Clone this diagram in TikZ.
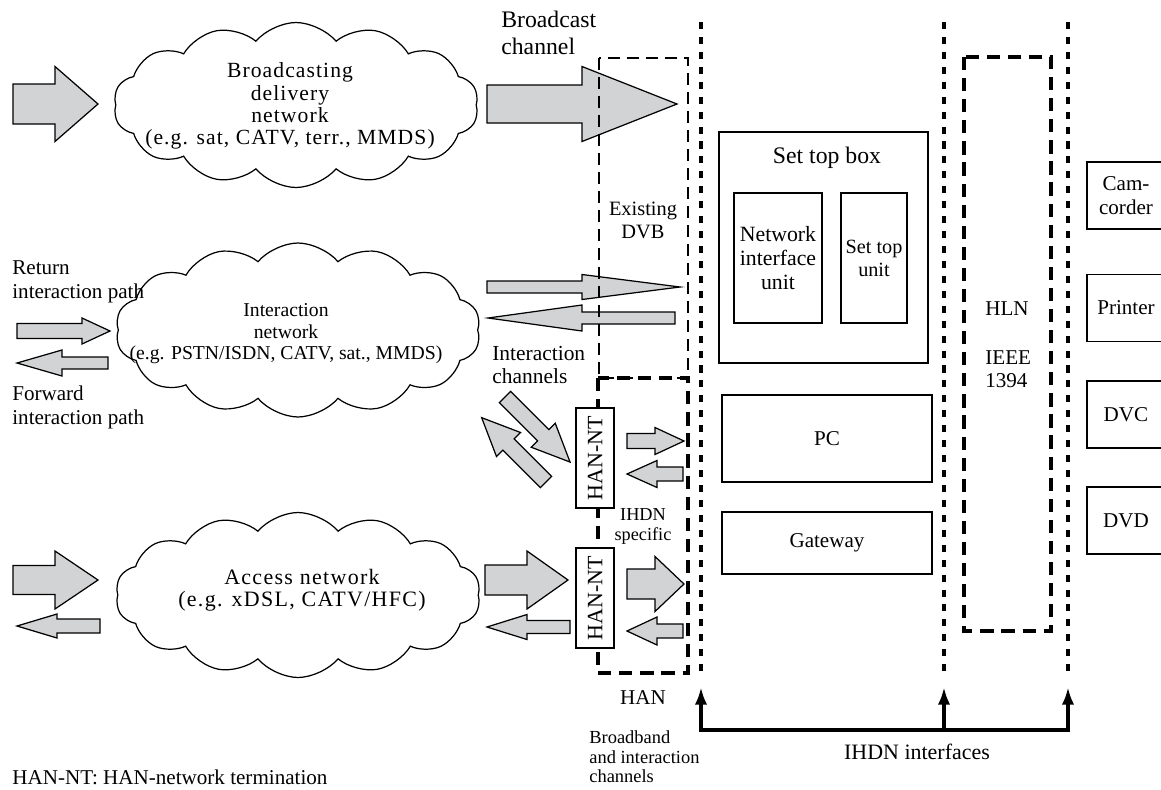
\documentclass[tikz,border=0pt]{standalone}
\usepackage{fontspec}
\setmainfont{Liberation Serif}
\usetikzlibrary{arrows.meta}
\usetikzlibrary{shapes.symbols}
\definecolor{arrowgray}{RGB}{210,211,213}
\tikzset{unitbox/.style={draw,line width=0.7pt,rectangle,inner sep=1pt,
                         align=center}}
\tikzset{netcloud/.style={cloud,draw,line width=0.7pt,cloud puffs=14,
                          cloud puff arc=100,inner sep=0pt,
                          minimum width=7.3cm,minimum height=3.3cm}}
\tikzset{blk/.style={draw,line width=0.7pt,fill=arrowgray}}
% block arrow: tail, angle, length, shaft width, head width, head length
\newcommand{\blkarrow}[6]{%
  \begin{scope}[shift={(#1)},rotate=#2]
    \draw[blk] (0,{-#4/2}) -- ({#3-#6},{-#4/2}) -- ({#3-#6},{-#5/2})
      -- (#3,0) -- ({#3-#6},{#5/2}) -- ({#3-#6},{#4/2}) -- (0,{#4/2}) -- cycle;
  \end{scope}}

\begin{document}
\begin{tikzpicture}[x=0.02cm,y=-0.02cm]
  \tikzstyle{lbl}=[inner sep=0pt,align=center,font=\fontsize{12}{13.5}\selectfont]
  \tikzstyle{small}=[inner sep=0pt,align=center,font=\fontsize{10.5}{11.2}\selectfont]
  \tikzstyle{dvbline}=[line width=0.6pt,dash pattern=on 6.8pt off 4pt]
  \tikzstyle{hanline}=[line width=2.2pt,dash pattern=on 7.5pt off 4.5pt]
  \tikzstyle{ifline}=[line width=2pt,dash pattern=on 4pt off 4.5pt]
  \tikzstyle{busline}=[line width=2pt,-{Latex[length=10pt,width=7pt]}]
  \useasboundingbox (0,0) rectangle (1161,789);
  \clip (0,0) rectangle (1161,789);

  % The three networks are drawn as clouds, the text is set on top:
  \node[netcloud] (bcloud) at (296,105) {};
  \node[lbl,font=\fontsize{12.3}{12.6}\selectfont\addfontfeature{LetterSpace=5}]
    (btext) at (290,106)
    {Broadcasting\\delivery\\network\\(e.g. sat, CATV, terr., MMDS)};
  \node[netcloud,minimum height=3.48cm] (icloud) at (298,330) {};
  \node[lbl,font=\fontsize{11.2}{12.2}\selectfont] (itext) at (286,334)
    {Interaction\\network\\(e.g. PSTN/ISDN, CATV, sat., MMDS)};
  \node[netcloud] (acloud) at (298,595) {};
  \node[lbl,font=\fontsize{12.5}{12.8}\selectfont\addfontfeature{LetterSpace=6}]
    (atext) at (302,590)
    {Access network\\(e.g. xDSL, CATV/HFC)};

  % Block arrows
  \blkarrow{13,104}{0}{85}{40}{75}{43}
  \blkarrow{487,104}{0}{190}{38}{75}{95}
  \blkarrow{487,287}{0}{193}{12}{25}{98}
  \blkarrow{675,318}{180}{187}{12}{26}{94}
  \blkarrow{17,331}{0}{93}{15}{26}{28}
  \blkarrow{108,363}{180}{91}{12}{26}{45}
  \blkarrow{13,580}{0}{85}{29}{58}{43}
  \blkarrow{100,626}{180}{83}{14}{24}{40}
  \blkarrow{485,580}{0}{83}{30}{58}{41}
  \blkarrow{570,627}{180}{83}{13}{25}{40}
  \blkarrow{627,441}{0}{57}{15}{27}{29}
  \blkarrow{683,474}{180}{56}{14}{27}{30}
  \blkarrow{627,584}{0}{57}{30}{55}{29}
  \blkarrow{683,631}{180}{56}{14}{28}{30}
  \blkarrow{505,397}{-45}{92}{16}{34}{38}
  \blkarrow{546,482}{135}{91}{16}{34}{38}

  % Existing DVB and HAN areas
  \draw[dvbline] (599,58) rectangle (688,378);
  \draw[hanline] (598,378) rectangle (688,673);
  \node[unitbox,fill=white,rotate=90,minimum width=2cm,minimum height=0.76cm,
        font=\fontsize{12.5}{13}\selectfont] (hannt1) at (595,458) {HAN-NT};
  \node[unitbox,fill=white,rotate=90,minimum width=2cm,minimum height=0.76cm,
        font=\fontsize{12.5}{13}\selectfont] (hannt2) at (595,598) {HAN-NT};

  % Interfaces and home local network
  \draw[ifline] (701,22) -- (701,675);
  \draw[ifline] (944,22) -- (944,675);
  \draw[ifline] (1068,22) -- (1068,675);
  \draw[hanline] (964,57) rectangle (1051,631);

  % Units inside the home
  \node[unitbox,minimum width=4.18cm,minimum height=4.62cm] (stb) at (823.5,247.5) {};
  \node[lbl,font=\fontsize{13.5}{14}\selectfont] (stblabel) at (827,158) {Set top box};
  \node[unitbox,lbl,draw,minimum width=1.76cm,minimum height=2.6cm,
        font=\fontsize{12.4}{13.7}\selectfont] (niu) at (778,258) {Network\\interface\\unit};
  \node[unitbox,lbl,draw,minimum width=1.32cm,minimum height=2.6cm,
        font=\fontsize{11.5}{13}\selectfont] (stu) at (874,258) {Set top\\unit};
  \node[unitbox,lbl,draw,minimum width=4.2cm,minimum height=1.74cm] (pc) at (827,438.5) {PC};
  \node[unitbox,lbl,draw,minimum width=4.2cm,minimum height=1.24cm] (gw) at (827,543) {Gateway};

  \node[unitbox,lbl,draw,minimum width=1.56cm,minimum height=1.34cm] (cam) at (1126,195.5) {Cam-\\corder};
  \node[unitbox,lbl,draw,minimum width=1.56cm,minimum height=1.34cm] (prn) at (1126,308) {Printer};
  \node[unitbox,lbl,draw,minimum width=1.56cm,minimum height=1.34cm] (dvc) at (1126,414.5) {DVC};
  \node[unitbox,lbl,draw,minimum width=1.56cm,minimum height=1.34cm] (dvd) at (1126,520.5) {DVD};

  % Labels
  \node[lbl,anchor=west,align=left,font=\fontsize{13.5}{15.4}\selectfont] (bchan) at (501,33) {Broadcast\\channel};
  \node[lbl,font=\fontsize{11.6}{13}\selectfont] (dvb) at (643,220) {Existing\\DVB};
  \node[lbl,anchor=west,align=left,font=\fontsize{12.2}{12.8}\selectfont] (ichan) at (492,365) {Interaction\\channels};
  \node[lbl,anchor=west,align=left,font=\fontsize{12}{13.7}\selectfont] (retpath) at (12,282) {Return\\interaction path};
  \node[lbl,anchor=west,align=left,font=\fontsize{12}{13.7}\selectfont] (fwdpath) at (12,407) {Forward\\interaction path};
  \node[small,font=\fontsize{10.4}{11.4}\selectfont] (ihdnspec) at (643,526) {IHDN\\specific};
  \node[lbl] (han) at (643,698) {HAN};
  \node[small,anchor=west,align=left] (bbchan) at (589,757) {Broadband\\and interaction\\channels};
  \node[lbl,anchor=west,align=left] (hln) at (985,309) {HLN};
  \node[lbl,anchor=west,align=left,font=\fontsize{12}{13}\selectfont] (ieee) at (985,369) {IEEE\\1394};
  \node[lbl,font=\fontsize{12.5}{13}\selectfont] (ihdnif) at (917,752) {IHDN interfaces};
  \node[lbl,anchor=west] (legend) at (12,777) {HAN-NT: HAN-network termination};

  % IHDN interfaces are pointed at from below
  \coordinate (if1) at (701,687);
  \coordinate (if2) at (944,687);
  \coordinate (if3) at (1068,687);
  \coordinate (bus2) at (944,730);
  \draw[busline,{Latex[length=10pt,width=7pt]}-{Latex[length=10pt,width=7pt]}]
    (if1) |- (bus2) -| (if3);
  \draw[busline] (bus2) -- (if2);
\end{tikzpicture}
\end{document}
